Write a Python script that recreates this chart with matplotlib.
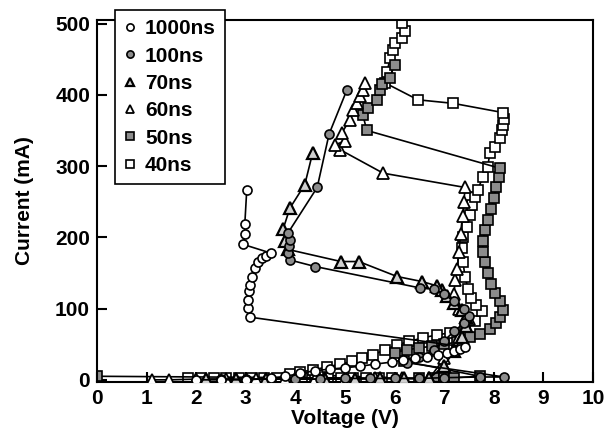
import numpy as np
import matplotlib.pyplot as plt

plt.rcParams['font.family'] = ['Liberation Sans', 'DejaVu Sans']
plt.rcParams['font.weight'] = 'bold'

# TLP I-V curves for different pulse widths (voltage in V, current in mA)
v_1000 = [2.0, 2.5, 3.0, 3.5, 3.8, 4.1, 4.4, 4.7, 5.0, 5.3, 5.6, 5.95, 6.17, 6.41, 6.65, 6.88, 7.06, 7.2, 7.32, 7.42,
          3.08, 3.05, 3.05, 3.06, 3.08, 3.12, 3.19, 3.25, 3.33, 3.41, 3.5, 2.95, 2.98, 2.98, 3.02]
i_1000 = [0, 0, 0, 2, 5, 9, 13, 15, 17, 19, 22, 25, 28, 31, 32, 35, 38, 41, 43, 46,
          88, 101, 112, 124, 133, 145, 157, 166, 171, 174, 178, 190, 204, 218, 267]

v_100 = [2.5, 3.0, 3.5, 4.0, 4.5, 5.0, 5.5, 6.0, 6.5, 7.0, 7.72, 8.21, 6.25, 6.5, 6.8, 7.0, 7.2, 7.4, 7.5,
         7.4, 7.2, 7.0, 6.8, 6.51, 4.4, 3.9, 3.85, 3.87, 3.9, 3.85, 4.44, 4.68, 5.04]
i_100 = [1, 1, 1, 1, 1, 2, 2, 2, 2, 3, 4, 4, 24, 32, 42, 55, 68, 80, 90,
         100, 110, 120, 127, 129, 159, 168, 178, 188, 196, 206, 270, 345, 407]

v_70 = [2.2, 2.8, 3.4, 4.0, 4.6, 5.2, 5.7, 6.2, 6.7, 7.0, 7.2, 7.35, 7.45, 7.45, 7.35, 7.2, 7.05, 6.95,
        6.85, 6.55, 6.05, 5.28, 4.92, 3.85, 3.8, 3.75, 3.89, 4.19, 4.35]
i_70 = [1, 1, 1, 1, 1, 1, 2, 2, 2, 20, 40, 60, 75, 88, 98, 108, 118, 126,
        132, 138, 145, 166, 166, 183, 195, 211, 241, 274, 319]

v_60 = [1.1, 1.45, 2.0, 2.6, 3.2, 3.8, 4.4, 5.0, 5.6, 6.15, 6.7, 7.0, 7.3, 7.5, 7.3, 7.2, 7.22, 7.26,
        7.3, 7.33, 7.37, 7.4, 7.42, 5.77, 4.9, 4.8, 5.0, 4.94, 5.1, 5.16, 5.24, 5.3, 5.36, 5.4]
i_60 = [0, 0, 1, 1, 1, 1, 1, 1, 2, 2, 2, 30, 60, 85, 100, 120, 140, 155,
        180, 205, 230, 250, 270, 290, 323, 330, 335, 347, 365, 379, 389, 398, 407, 417]

v_50 = [0.0, 6.5, 6.8, 7.0, 7.2, 7.72, 6.2, 6.0, 6.25, 6.5, 6.75, 7.0, 7.26, 7.52, 7.72, 7.92, 8.05, 8.12,
        8.19, 8.12, 8.02, 7.95, 7.88, 7.82, 7.78, 7.78, 7.82, 7.88, 7.95, 8.0, 8.05, 8.1, 8.12,
        5.44, 5.36, 5.46, 5.64, 5.7, 5.75, 5.9, 6.0]
i_50 = [5, 2, 2, 3, 3, 5, 26, 38, 42, 45, 47, 50, 53, 60, 65, 72, 80, 88,
        98, 110, 122, 135, 150, 165, 180, 195, 210, 225, 240, 255, 270, 285, 297,
        350, 372, 382, 393, 407, 415, 424, 442]

v_40 = [1.83, 2.09, 2.35, 2.6, 2.86, 3.12, 3.37, 3.63, 3.89, 4.14, 4.4, 4.66, 4.91, 5.17, 5.43, 5.68, 5.94,
        3.89, 4.1, 4.35, 4.64, 4.9, 5.15, 5.35, 5.56, 5.8, 6.05, 6.3, 6.57, 6.85, 7.12, 7.42, 7.62, 7.76,
        7.65, 7.55, 7.48, 7.42, 7.38, 7.36, 7.38, 7.46, 7.52, 7.56, 7.62, 7.68, 7.78, 7.88, 7.92, 8.02,
        8.12, 8.17, 8.19, 8.2, 8.19, 7.18, 6.47, 5.8, 5.85, 5.91, 5.97, 6.01, 6.15, 6.21, 6.15]
i_40 = [3, 3, 3, 3, 3, 3, 3, 3, 3, 3, 3, 3, 3, 3, 3, 3, 3,
        8, 11, 14, 18, 22, 26, 31, 35, 42, 49, 54, 59, 63, 66, 70, 82, 96,
        105, 115, 128, 145, 165, 185, 200, 215, 232, 246, 257, 267, 285, 299, 319, 327,
        340, 350, 358, 366, 375, 388, 393, 417, 432, 452, 463, 473, 479, 489, 501]

grey = '#8c8c8c'
fig = plt.figure(figsize=(6.05, 4.36), dpi=100)
ax = fig.add_axes([0.1603, 0.1239, 0.8198, 0.8303])

ax.plot(v_40, i_40, '-s', color='black', lw=1.2, mfc='white', mec='black', mew=1.2, ms=7, label='40ns', zorder=2)
ax.plot(v_50, i_50, '-s', color='black', lw=1.2, mfc=grey, mec='black', mew=1.2, ms=7, label='50ns', zorder=2)
ax.plot(v_60, i_60, '-^', color='black', lw=1.2, mfc='white', mec='black', mew=1.3, ms=8, label='60ns', zorder=3)
ax.plot(v_70, i_70, '-^', color='black', lw=1.2, mfc='#d0d0d0', mec='black', mew=1.6, ms=8, label='70ns', zorder=3)
ax.plot(v_100, i_100, '-o', color='black', lw=1.2, mfc=grey, mec='black', mew=1.2, ms=6.5, label='100ns', zorder=4)
ax.plot(v_1000, i_1000, '-o', color='black', lw=1.2, mfc='white', mec='black', mew=1.2, ms=6.5, label='1000ns', zorder=4)

ax.set_xlim(0, 10)
ax.set_ylim(-3, 505)
ax.set_xticks(np.arange(0, 11, 1))
ax.set_yticks(np.arange(0, 501, 100))
ax.tick_params(direction='in', length=7, width=1.5, labelsize=15, pad=5)
for s in ax.spines.values():
    s.set_linewidth(1.5)

ax.set_xlabel('Voltage (V)', fontsize=15, fontweight='bold', labelpad=1)
ax.set_ylabel('Current (mA)', fontsize=15, fontweight='bold', labelpad=15)

handles, labels = ax.get_legend_handles_labels()
leg = ax.legend(handles[::-1], labels[::-1], loc='upper left', bbox_to_anchor=(0.036, 1.028),
                fontsize=15, frameon=True, fancybox=False, edgecolor='black', framealpha=1,
                handlelength=0.6, handletextpad=0.4, labelspacing=0.4, borderpad=0.45,
                borderaxespad=0, markerscale=0.8)
leg.get_frame().set_linewidth(1.2)
for h in leg.get_lines():
    h.set_linestyle('none')
leg.set_zorder(10)

fig.savefig('out.png', dpi=100)
